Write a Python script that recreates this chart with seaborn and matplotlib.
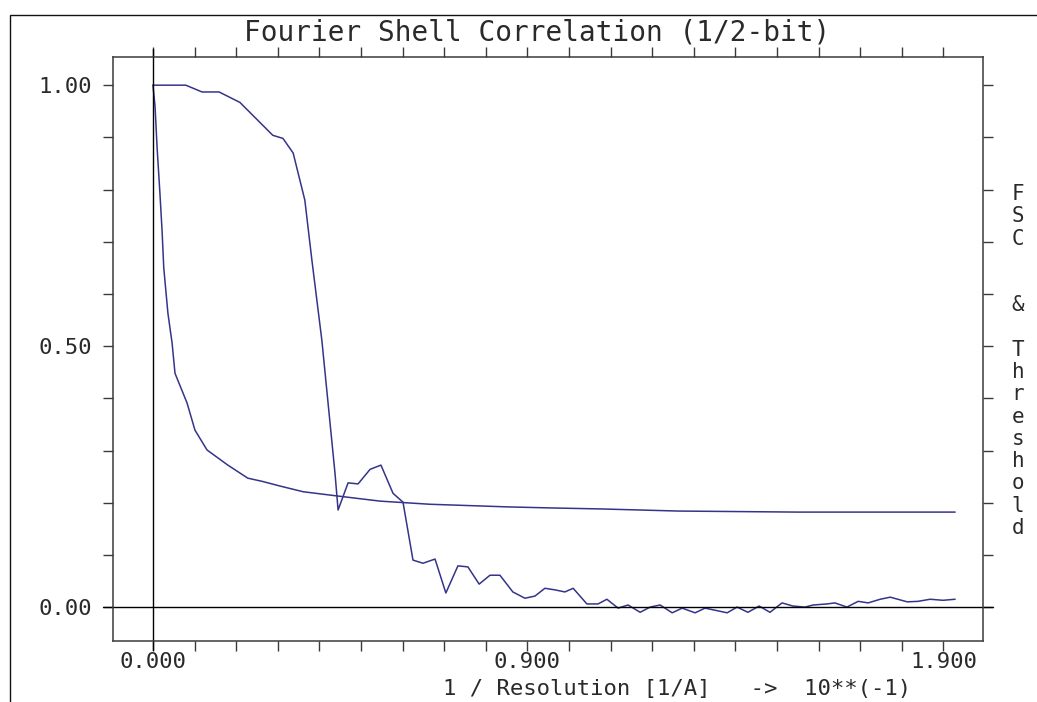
import pandas as pd
import seaborn as sns
import matplotlib.pyplot as plt
from matplotlib.patches import Rectangle


# FSC curve
fsc_x = [0.0, 0.079, 0.118, 0.159, 0.209, 0.288, 0.3125, 0.337, 0.365, 0.382,
         0.406, 0.4375, 0.445, 0.469, 0.493, 0.522, 0.548, 0.577, 0.601, 0.625,
         0.649, 0.678, 0.704, 0.733, 0.757, 0.784, 0.810, 0.834, 0.865, 0.894,
         0.918, 0.942, 0.966, 0.990, 1.010, 1.043, 1.070, 1.091, 1.118, 1.142,
         1.171, 1.195, 1.219, 1.248, 1.272, 1.303, 1.327, 1.351, 1.380, 1.404,
         1.430, 1.457, 1.483, 1.512, 1.538, 1.567, 1.587, 1.620, 1.639, 1.668,
         1.695, 1.719, 1.748, 1.772, 1.813, 1.839, 1.868, 1.899, 1.928]
fsc_y = [1.0, 1.0, 0.987, 0.987, 0.967, 0.904, 0.898, 0.87, 0.78, 0.665,
         0.511, 0.257, 0.186, 0.238, 0.236, 0.264, 0.272, 0.218, 0.201, 0.090,
         0.084, 0.092, 0.027, 0.079, 0.077, 0.044, 0.061, 0.061, 0.029, 0.017,
         0.021, 0.036, 0.033, 0.029, 0.036, 0.006, 0.006, 0.015, -0.002, 0.004,
         -0.010, 0.0, 0.004, -0.011, -0.002, -0.011, -0.002, -0.006, -0.011, 0.0,
         -0.010, 0.002, -0.010, 0.008, 0.002, 0.0, 0.004, 0.006, 0.008, 0.0,
         0.011, 0.008, 0.015, 0.019, 0.010, 0.011, 0.015, 0.013, 0.015]

# 1/2-bit threshold curve
thr_x = [0.0, 0.005, 0.010, 0.017, 0.022, 0.026, 0.036, 0.046, 0.053, 0.082,
         0.101, 0.130, 0.180, 0.228, 0.262, 0.305, 0.361, 0.442, 0.546, 0.666,
         0.851, 0.954, 1.079, 1.262, 1.548, 1.928]
thr_y = [1.0, 0.96, 0.88, 0.79, 0.72, 0.65, 0.563, 0.506, 0.448, 0.391,
         0.339, 0.301, 0.272, 0.247, 0.241, 0.232, 0.221, 0.213, 0.203, 0.197,
         0.192, 0.190, 0.188, 0.184, 0.182, 0.182]

x_ticks = [0.0, 0.1, 0.2, 0.3, 0.4, 0.5, 0.6, 0.7, 0.8, 0.9,
           1.0, 1.1, 1.2, 1.3, 1.4, 1.5, 1.6, 1.7, 1.8, 1.9]
x_tick_labels = ['0.000', '', '', '', '', '', '', '', '', '0.900',
                 '', '', '', '', '', '', '', '', '', '1.900']
y_ticks = [0.0, 0.1, 0.2, 0.3, 0.4, 0.5, 0.6, 0.7, 0.8, 0.9, 1.0]
y_tick_labels = ['0.00', '', '', '', '', '0.50', '', '', '', '', '1.00']

title = 'Fourier Shell Correlation (1/2-bit)'
xlabel = '1 / Resolution [1/A]   ->  10**(-1)'
right_label = 'F\nS\nC\n\n\n&\n\nT\nh\nr\ne\ns\nh\no\nl\nd'

line_color = '#34348a'
axis_color = '#3a3a3a'
text_color = '#2a2a2a'

sns.set_style('white')
plt.rcParams['font.family'] = ['DejaVu Sans Mono', 'DejaVu Sans']

fsc_df = pd.DataFrame({'res': fsc_x, 'fsc': fsc_y})
thr_df = pd.DataFrame({'res': thr_x, 'thr': thr_y})

fig = plt.figure(figsize=(10.37, 7.02), dpi=100)
ax = fig.add_axes([113 / 1037, 61 / 702, 870 / 1037, 584 / 702])

sns.lineplot(data=fsc_df, x='res', y='fsc', ax=ax, color=line_color, lw=1.1, estimator=None, sort=False)
sns.lineplot(data=thr_df, x='res', y='thr', ax=ax, color=line_color, lw=1.1, estimator=None, sort=False)

ax.set_xlim(-0.096, 1.995)
ax.set_ylim(-0.065, 1.054)

# zero lines run across the whole box, out to the tick ends
ax.axhline(0, xmin=-10 / 870, xmax=1 + 10 / 870, color='black', lw=1.0, clip_on=False)
ax.axvline(0, ymin=-9 / 584, ymax=1 + 8 / 584, color='black', lw=1.0, clip_on=False)

ax.set_xticks(x_ticks)
ax.set_xticklabels(x_tick_labels, fontsize=16)
ax.set_yticks(y_ticks)
ax.set_yticklabels(y_tick_labels, fontsize=16)
ax.tick_params(axis='both', direction='out', length=7, width=1.0, color=axis_color,
               top=True, right=True, bottom=True, left=True, labelcolor=text_color)
ax.tick_params(axis='x', pad=1)
ax.tick_params(axis='y', pad=8)
ax.set_xlabel('')
ax.set_ylabel('')

for side in ['left', 'right', 'top', 'bottom']:
    ax.spines[side].set_visible(True)
    ax.spines[side].set_color(axis_color)
    ax.spines[side].set_linewidth(1.1)

fig.text(537 / 1037, 1 - 33 / 702, title, ha='center', va='center', fontsize=20, color=text_color)
fig.text(677 / 1037, 1 - 689 / 702, xlabel, ha='center', va='center', fontsize=16, color=text_color)
fig.text(1018 / 1037, 1 - 361 / 702, right_label, ha='center', va='center', fontsize=15,
         linespacing=1.14, color=text_color)

# outer frame of the old plotter page
fig.add_artist(Rectangle((10 / 1037, -0.1), 1.2, 1.1 - 15 / 702, transform=fig.transFigure,
                         fill=False, edgecolor='#111111', lw=1.0))

fig.savefig('out.png', dpi=100, facecolor='white')
